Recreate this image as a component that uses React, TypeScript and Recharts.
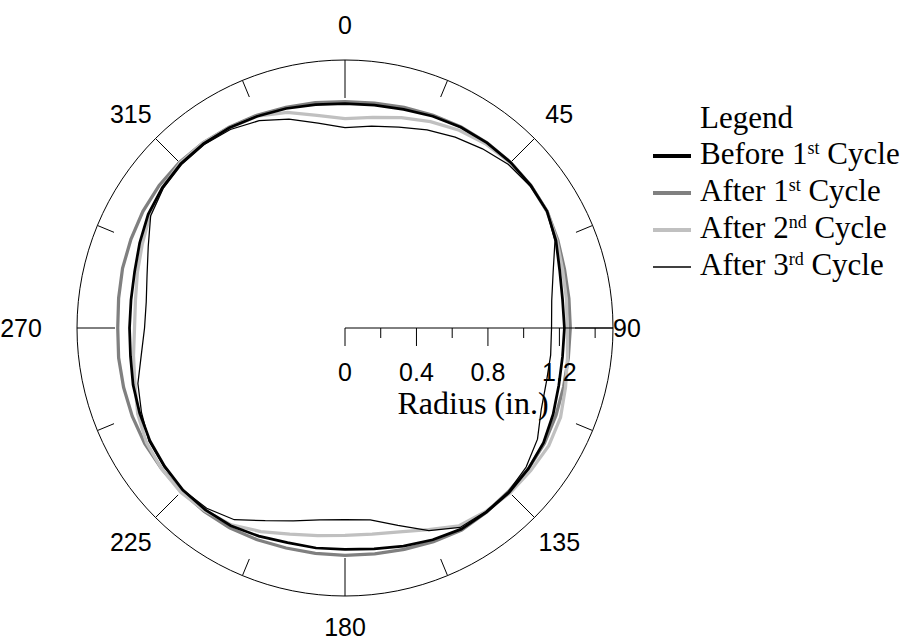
import { RadarChart, Radar, PolarAngleAxis, PolarRadiusAxis } from 'recharts';

// angles in degrees, clockwise from the top
const ANGLES = [
  0, 7.5, 15, 22.5, 30, 37.5, 45, 52.5, 60, 67.5, 75, 82.5,
  90, 97.5, 105, 112.5, 120, 127.5, 135, 142.5, 150, 157.5, 165, 172.5,
  180, 187.5, 195, 202.5, 210, 217.5, 225, 232.5, 240, 247.5, 255, 262.5,
  270, 277.5, 285, 292.5, 300, 307.5, 315, 322.5, 330, 337.5, 345, 352.5,
];

// radius (in.)
const BEFORE_1ST = [
  1.256, 1.258, 1.267, 1.283, 1.297, 1.306, 1.311, 1.311, 1.306, 1.278, 1.244, 1.228,
  1.228, 1.228, 1.239, 1.261, 1.283, 1.294, 1.3, 1.3, 1.3, 1.283, 1.264, 1.247,
  1.239, 1.242, 1.244, 1.261, 1.278, 1.283, 1.283, 1.272, 1.261, 1.244, 1.228, 1.211,
  1.206, 1.208, 1.219, 1.244, 1.272, 1.289, 1.3, 1.3, 1.294, 1.283, 1.272, 1.261,
];
const AFTER_1ST = [
  1.267, 1.269, 1.278, 1.289, 1.3, 1.306, 1.311, 1.311, 1.306, 1.289, 1.272, 1.264,
  1.261, 1.261, 1.267, 1.278, 1.289, 1.294, 1.294, 1.3, 1.306, 1.294, 1.283, 1.275,
  1.272, 1.272, 1.275, 1.283, 1.292, 1.294, 1.294, 1.294, 1.294, 1.289, 1.283, 1.278,
  1.272, 1.278, 1.289, 1.297, 1.306, 1.311, 1.311, 1.306, 1.297, 1.289, 1.278, 1.272,
];
const AFTER_2ND = [
  1.172, 1.189, 1.219, 1.25, 1.278, 1.297, 1.308, 1.311, 1.306, 1.283, 1.261, 1.25,
  1.244, 1.256, 1.278, 1.306, 1.317, 1.311, 1.306, 1.294, 1.278, 1.222, 1.181, 1.164,
  1.161, 1.172, 1.194, 1.233, 1.272, 1.289, 1.3, 1.294, 1.283, 1.256, 1.217, 1.194,
  1.178, 1.183, 1.203, 1.228, 1.261, 1.289, 1.306, 1.306, 1.294, 1.283, 1.25, 1.2,
];
const AFTER_3RD = [
  1.122, 1.139, 1.164, 1.2, 1.233, 1.264, 1.294, 1.306, 1.306, 1.272, 1.206, 1.167,
  1.156, 1.161, 1.167, 1.189, 1.244, 1.278, 1.294, 1.294, 1.289, 1.228, 1.144, 1.083,
  1.072, 1.083, 1.117, 1.167, 1.239, 1.272, 1.283, 1.278, 1.267, 1.233, 1.2, 1.15,
  1.122, 1.122, 1.147, 1.192, 1.256, 1.283, 1.294, 1.294, 1.283, 1.256, 1.211, 1.156,
];

const RADIUS_TICKS = [0, 0.2, 0.4, 0.6, 0.8, 1.0, 1.2, 1.4, 1.5];
const RADIUS_LABELS = [0, 0.4, 0.8, 1.2];
const RADIUS_MAX = 1.5;
const TICK_ANGLES = [0, 22.5, 45, 67.5, 90, 112.5, 135, 157.5, 180, 202.5, 225, 247.5, 270, 292.5, 315, 337.5];
const ANGLE_LABELS = [0, 45, 90, 135, 180, 225, 270, 315];

const data = ANGLES.map((angle, i) => ({
  angle,
  before1: BEFORE_1ST[i],
  after1: AFTER_1ST[i],
  after2: AFTER_2ND[i],
  after3: AFTER_3RD[i],
}));

const SERIES = [
  { key: 'before1', pre: 'Before 1', sup: 'st', color: '#000000', width: 2.75 },
  { key: 'after1', pre: 'After 1', sup: 'st', color: '#808080', width: 3.25 },
  { key: 'after2', pre: 'After 2', sup: 'nd', color: '#c0c0c0', width: 3.25 },
  { key: 'after3', pre: 'After 3', sup: 'rd', color: '#000000', width: 1.25 },
];
// grey lines sit under the black ones in the original
const DRAW_ORDER = ['after1', 'after2', 'before1', 'after3'];

const CX = 345;
const CY = 328;
const OUTER = 268;
const RAD = Math.PI / 180;
const SANS = '"Liberation Sans", Arial, sans-serif';
const SERIF = '"Liberation Serif", "Times New Roman", serif';

function polar(r: number, deg: number) {
  return { x: CX + Math.cos(-deg * RAD) * r, y: CY + Math.sin(-deg * RAD) * r };
}

function AngleTick({ payload }: any) {
  const v = Number(payload.value);
  if (!TICK_ANGLES.includes(v)) return <g />;
  const deg = payload.coordinate ?? 90 - v;
  const len = v % 90 === 0 ? 38 : v % 45 === 0 ? 32 : 18;
  const a = polar(OUTER, deg);
  const b = polar(OUTER - len, deg);
  const l = polar(v === 180 ? 299 : 303, deg);
  const nudge = v === 90 || v === 270 ? -21 : 0;
  return (
    <g>
      <line x1={a.x} y1={a.y} x2={b.x} y2={b.y} stroke="#000" strokeWidth={1} />
      {ANGLE_LABELS.includes(v) && (
        <text x={l.x + nudge} y={l.y} textAnchor="middle" dominantBaseline="central"
          fontFamily={SANS} fontSize={25} fill="#000">
          {v}
        </text>
      )}
    </g>
  );
}

function RadiusTick({ x, y, payload }: any) {
  const v = Number(payload.value);
  if (v > 1.45) return <g />;
  const major = RADIUS_LABELS.some((m) => Math.abs(m - v) < 1e-6);
  return (
    <g>
      <line x1={x} y1={y} x2={x} y2={y + (major ? 18 : 10)} stroke="#000" strokeWidth={1} />
      {major && (
        <text x={x} y={y + 53} textAnchor="middle" fontFamily={SANS} fontSize={25} fill="#000">
          {v === 0 ? '0' : v.toFixed(1)}
        </text>
      )}
    </g>
  );
}

export default function App() {
  return (
    <div style={{ position: 'absolute', left: 0, top: 0, width: 910, height: 643, background: '#fff' }}>
      <RadarChart width={910} height={643} data={data} cx={CX} cy={CY} outerRadius={OUTER}
        margin={{ top: 0, right: 0, bottom: 0, left: 0 }}>
        <PolarAngleAxis dataKey="angle" axisLineType="circle" axisLine={{ stroke: '#000', strokeWidth: 1 }}
          tickLine={false} tick={<AngleTick />} />
        <PolarRadiusAxis angle={0} type="number" domain={[0, RADIUS_MAX]} allowDataOverflow allowDecimals
          tickCount={4} ticks={RADIUS_TICKS as any} axisLine={{ stroke: '#000', strokeWidth: 1 }}
          tick={<RadiusTick />} />
        {DRAW_ORDER.map((k) => {
          const s = SERIES.find((e) => e.key === k)!;
          return (
            <Radar key={s.key} dataKey={s.key} stroke={s.color} strokeWidth={s.width}
              fill="none" fillOpacity={0} dot={false} isAnimationActive={false} />
          );
        })}
      </RadarChart>
      <svg width={910} height={643} style={{ position: 'absolute', left: 0, top: 0, pointerEvents: 'none' }}>
        <text x={473} y={414} textAnchor="middle" fontFamily={SERIF} fontSize={32} fill="#000">
          Radius (in.)
        </text>
        <text x={700} y={128} fontFamily={SERIF} fontSize={31} fill="#000">Legend</text>
        {SERIES.map((s, i) => {
          const y = 156 + i * 37;
          return (
            <g key={s.key}>
              <line x1={653} y1={y} x2={691} y2={y} stroke={s.color}
                strokeWidth={s.key === 'after3' ? 1.5 : 4} />
              <text x={700} y={y + 8} fontFamily={SERIF} fontSize={31} fill="#000">
                {s.pre}
                <tspan fontSize={18} dy={-10}>{s.sup}</tspan>
                <tspan dy={10}> Cycle</tspan>
              </text>
            </g>
          );
        })}
      </svg>
    </div>
  );
}
